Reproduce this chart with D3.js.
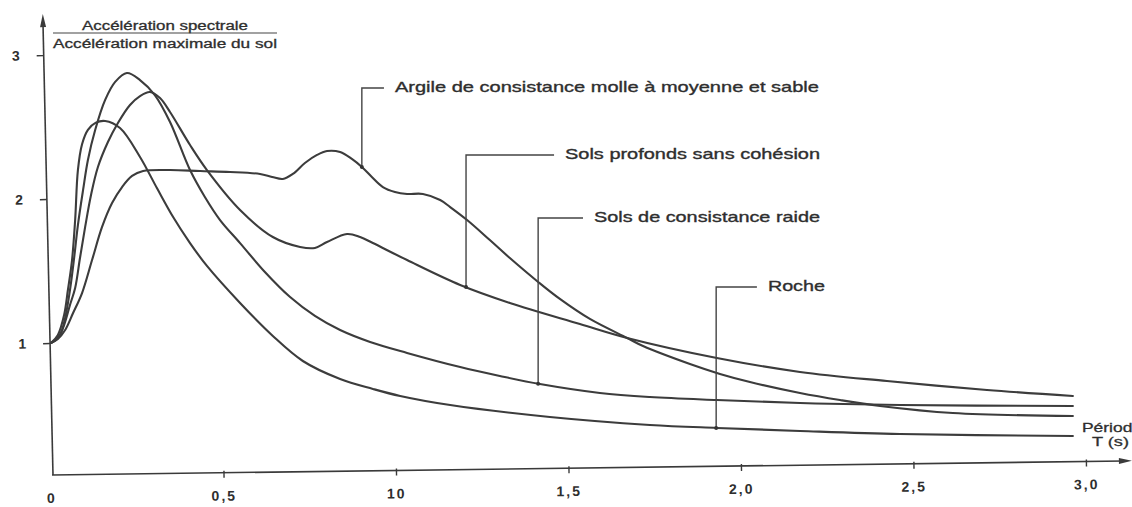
<!DOCTYPE html>
<html><head><meta charset="utf-8">
<script src="https://cdn.jsdelivr.net/npm/d3@7"></script>
<style>
html,body{margin:0;padding:0;background:#fff;overflow:hidden}
svg{display:block;background:#fff}
text{font-family:"Liberation Sans",Arial,Helvetica,sans-serif;fill:#2e2e2e}
</style></head><body>
<svg id="chart" width="1132" height="507"></svg>
<script>
// ---------- data ----------
const seriesNames = ["Argile de consistance molle à moyenne et sable","Sols profonds sans cohésion","Sols de consistance raide","Roche"];

const argileT = [0,0.020,0.041,0.064,0.090,0.119,0.148,0.177,0.206,0.235,0.267,0.345,0.432,0.519,0.606,0.641,0.672,0.701,0.736,0.771,0.800,0.838,0.872,0.901,0.930,0.962,0.997,1.032,1.078,1.128,1.157,1.206,1.272,1.330,1.412,1.475,1.562,1.670,1.716,1.852,1.939,2.026,2.171,2.287,2.403,2.614,2.962];
const argileV = [1.000,1.028,1.090,1.208,1.347,1.576,1.806,1.972,2.083,2.160,2.194,2.201,2.194,2.188,2.174,2.153,2.139,2.174,2.250,2.306,2.333,2.326,2.278,2.222,2.153,2.083,2.049,2.035,2.035,1.993,1.944,1.854,1.715,1.590,1.424,1.306,1.167,1.035,0.979,0.854,0.785,0.729,0.653,0.604,0.563,0.514,0.493];

const profondsT = [0,0.020,0.038,0.055,0.070,0.084,0.099,0.116,0.136,0.165,0.194,0.229,0.258,0.287,0.316,0.345,0.403,0.452,0.548,0.643,0.722,0.765,0.800,0.858,0.896,0.933,1.032,1.186,1.330,1.533,1.670,1.930,2.171,2.423,2.713,2.962];
const profondsV = [1.000,1.035,1.125,1.264,1.382,1.590,1.806,2.028,2.222,2.396,2.528,2.653,2.715,2.743,2.701,2.604,2.375,2.201,1.924,1.736,1.667,1.660,1.701,1.757,1.736,1.694,1.576,1.403,1.278,1.132,1.035,0.896,0.799,0.736,0.674,0.632];

const raideT = [0,0.026,0.041,0.055,0.067,0.078,0.093,0.107,0.128,0.157,0.186,0.220,0.258,0.301,0.345,0.403,0.446,0.490,0.548,0.620,0.693,0.765,0.838,0.925,1.032,1.186,1.301,1.417,1.591,1.736,1.930,2.171,2.461,2.962];
const raideV = [1.000,1.056,1.174,1.368,1.590,1.819,2.063,2.271,2.479,2.688,2.813,2.875,2.826,2.722,2.535,2.201,2.014,1.854,1.694,1.493,1.319,1.188,1.090,1.007,0.931,0.833,0.771,0.715,0.653,0.625,0.604,0.583,0.569,0.563];

const rocheT = [0,0.020,0.038,0.049,0.061,0.070,0.078,0.090,0.107,0.130,0.157,0.200,0.258,0.307,0.354,0.403,0.452,0.548,0.643,0.730,0.838,0.933,1.012,1.157,1.446,1.736,1.930,2.171,2.461,2.962];
const rocheV = [1.000,1.056,1.194,1.368,1.576,1.854,2.200,2.380,2.480,2.530,2.542,2.493,2.292,2.076,1.875,1.694,1.535,1.278,1.049,0.875,0.750,0.681,0.632,0.569,0.486,0.431,0.410,0.389,0.368,0.354];

// label leader anchors (period where the leader touches the curve, level of the label, period where text starts)
const labelAnchorT = [0.901, 1.203, 1.412, 1.928];
const labelLevelV  = [2.771, 2.306, 1.868, 1.389];
const labelTextT   = [0.997, 1.490, 1.574, 2.078];

const xTickValues = [0, 0.5, 1, 1.5, 2, 2.5, 3];
const xTickLabels = ["0", "0,5", "10", "1,5", "2,0", "2,5", "3,0"];
const yTickValues = [1, 2, 3];
const yTickLabels = ["1", "2", "3"];
const yTitleTop = "Accélération spectrale";
const yTitleBottom = "Accélération maximale du sol";
const xTitleTop = "Période";
const xTitleBottom = "T (s)";

// ---------- layout / style ----------
const ink = "#3a3a3a";
const labelWidths = [424, 255, 226, 57];

const svg = d3.select("#chart");
const x = d3.scaleLinear().domain([0, 3]).range([51, 1086]);
const y = d3.scaleLinear().domain([0, 3]).range([487, 55]);

const series = [
  {T: argileT, V: argileV},
  {T: profondsT, V: profondsV},
  {T: raideT, V: raideV},
  {T: rocheT, V: rocheV}
].map((s, i) => ({name: seriesNames[i], pts: s.T.map((t, j) => [t, s.V[j]])}));

function heavy(sel, w) {
  return sel.attr("stroke", "#2e2e2e").attr("stroke-width", w).attr("paint-order", "stroke");
}

// ---------- axes ----------
const axisY0 = 475; // pixel row of the x axis
// y axis (scan is slightly skewed)
const gy = svg.append("g").attr("transform", `rotate(-1.27,53,${axisY0}) translate(53,0)`);
gy.call(d3.axisLeft(y).tickValues(yTickValues).tickFormat((d, i) => yTickLabels[i])
  .tickSize(7).tickPadding(17).tickSizeOuter(0));
gy.select(".domain").remove();
gy.selectAll(".tick line").attr("stroke", ink).attr("stroke-width", 1.4);
gy.selectAll(".tick text").attr("font-size", 14).attr("font-weight", "bold").attr("fill", "#333");
gy.append("line").attr("x1", 0).attr("x2", 0).attr("y1", axisY0).attr("y2", 22)
  .attr("stroke", ink).attr("stroke-width", 1.6);
gy.append("path").attr("d", "M0,14 L-3,27 L3,27 Z").attr("fill", ink);

// x axis
const gx = svg.append("g").attr("transform", `rotate(-0.75,51,${axisY0}) translate(0,${axisY0})`);
gx.call(d3.axisBottom(x).tickValues(xTickValues).tickFormat((d, i) => xTickLabels[i])
  .tickSize(5).tickPadding(13).tickSizeOuter(0));
gx.select(".domain").remove();
gx.selectAll(".tick line").attr("stroke", ink).attr("stroke-width", 1.4)
  .attr("y1", -2).filter(d => d === 0).remove();
gx.selectAll(".tick text").attr("font-size", 14).attr("font-weight", "bold")
  .attr("letter-spacing", 2).attr("fill", "#333");
gx.append("line").attr("x1", 52).attr("x2", 1124).attr("y1", 0).attr("y2", 0)
  .attr("stroke", ink).attr("stroke-width", 1.6);
gx.append("path").attr("d", "M1132,0 L1119,-3 L1119,3 Z").attr("fill", ink);

// x title
heavy(svg.append("text").attr("x", 1082).attr("y", 432).attr("font-size", 13)
  .attr("textLength", 60).attr("lengthAdjust", "spacingAndGlyphs").text(xTitleTop), 0.3);
heavy(svg.append("text").attr("x", 1129).attr("y", 446).attr("font-size", 13).attr("text-anchor", "end")
  .attr("textLength", 37).attr("lengthAdjust", "spacingAndGlyphs").text(xTitleBottom), 0.3);

// y title (fraction)
heavy(svg.append("text").attr("x", 82).attr("y", 29.5).attr("font-size", 12.5)
  .attr("textLength", 166).attr("lengthAdjust", "spacingAndGlyphs").text(yTitleTop), 0.3);
svg.append("line").attr("x1", 53).attr("x2", 277).attr("y1", 33).attr("y2", 33)
  .attr("stroke", "#444").attr("stroke-width", 1.2);
heavy(svg.append("text").attr("x", 53).attr("y", 47.5).attr("font-size", 12.5)
  .attr("textLength", 224).attr("lengthAdjust", "spacingAndGlyphs").text(yTitleBottom), 0.3);

// ---------- curves ----------
const line = d3.line().x(d => x(d[0])).y(d => y(d[1])).curve(d3.curveCatmullRom.alpha(0.5));
svg.append("g").selectAll("path").data(series).join("path")
  .attr("d", d => line(d.pts))
  .attr("fill", "none").attr("stroke", "#3c3c3c").attr("stroke-width", 2.1)
  .attr("stroke-linejoin", "round").attr("stroke-linecap", "round");

// ---------- leaders & labels ----------
function interp(pts, t) {
  for (let i = 1; i < pts.length; i++) {
    if (t <= pts[i][0]) {
      const [t0, v0] = pts[i - 1], [t1, v1] = pts[i];
      return v0 + (v1 - v0) * (t - t0) / (t1 - t0);
    }
  }
  return pts[pts.length - 1][1];
}
const gl = svg.append("g");
series.forEach((s, i) => {
  const ax = x(labelAnchorT[i]);
  const ay = y(interp(s.pts, labelAnchorT[i]));
  const ly = y(labelLevelV[i]);
  const tx = x(labelTextT[i]);
  gl.append("path").attr("d", `M${ax},${ay} L${ax},${ly} L${tx - 11},${ly}`)
    .attr("fill", "none").attr("stroke", "#444").attr("stroke-width", 1.4);
  gl.append("circle").attr("cx", ax).attr("cy", ay).attr("r", 2).attr("fill", "#333");
  heavy(gl.append("text").attr("x", tx).attr("y", ly + 4).attr("font-size", 15)
    .attr("textLength", labelWidths[i]).attr("lengthAdjust", "spacingAndGlyphs")
    .text(s.name), 0.35);
});
</script>
</body></html>
